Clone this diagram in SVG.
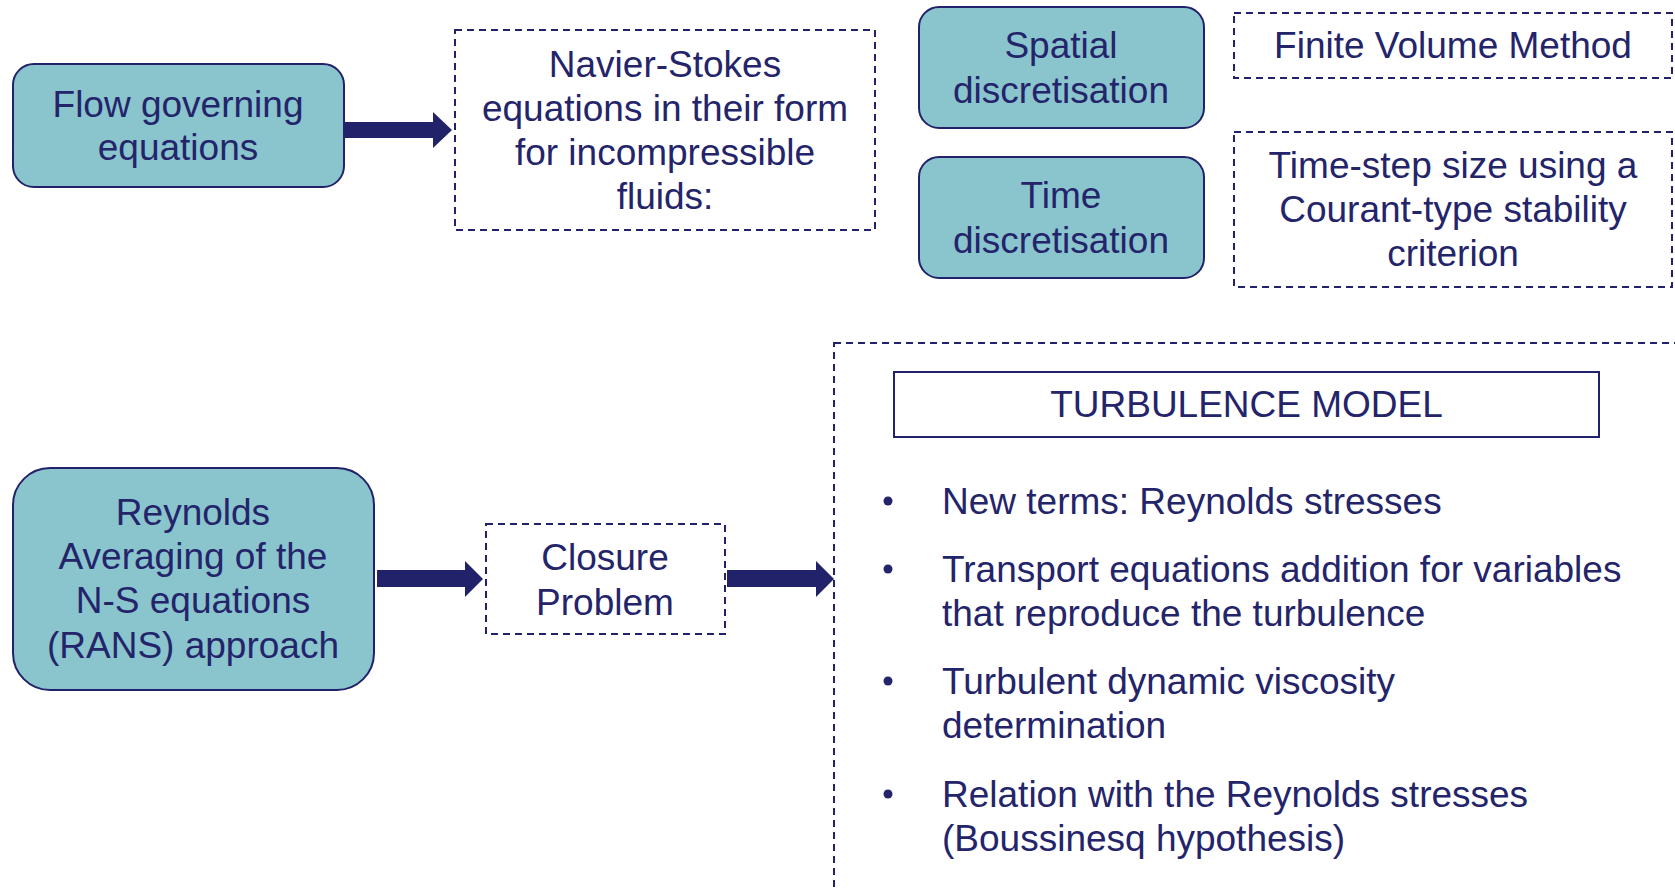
<svg xmlns="http://www.w3.org/2000/svg" width="1675" height="888" viewBox="0 0 1675 888">
  <defs>
    <style>
      .teal { fill: #8AC5CE; stroke: #22226A; stroke-width: 2; }
      .dash { fill: none; stroke: #22226A; stroke-width: 2; stroke-dasharray: 7 5; }
      .solid { fill: #FFFFFF; stroke: #22226A; stroke-width: 2; }
      .arrow { fill: #22226A; stroke: none; }
      text { font-family: "Liberation Sans", Arial, sans-serif; font-size: 37px; fill: #24246B; }
      .c { text-anchor: middle; }
    </style>
  </defs>
  <rect width="1675" height="888" fill="#FFFFFF"/>

  <!-- connectors: block arrows -->
  <g id="connectors">
    <path class="arrow" d="M345,122 H433 V112 L452,130 L433,148 V138 H345 Z"/>
    <path class="arrow" d="M377,570 H465 V561 L483,579 L465,597 V587 H377 Z"/>
    <path class="arrow" d="M727,570 H816 V561 L834,579 L816,597 V587 H727 Z"/>
  </g>

  <g id="flow-governing">
    <rect class="teal" x="13" y="64" width="331" height="123" rx="21" ry="21"/>
    <text class="c" x="178" y="117">Flow governing</text>
    <text class="c" x="178" y="160">equations</text>
  </g>

  <g id="navier-stokes">
    <rect class="dash" x="455" y="30" width="420" height="200"/>
    <text class="c" x="665" y="77">Navier-Stokes</text>
    <text class="c" x="665" y="121">equations in their form</text>
    <text class="c" x="665" y="165">for incompressible</text>
    <text class="c" x="665" y="209">fluids:</text>
  </g>

  <g id="spatial-discretisation">
    <rect class="teal" x="919" y="7" width="285" height="121" rx="20" ry="20"/>
    <text class="c" x="1061" y="58">Spatial</text>
    <text class="c" x="1061" y="103">discretisation</text>
  </g>

  <g id="finite-volume">
    <rect class="dash" x="1234" y="13" width="438" height="65"/>
    <text class="c" x="1453" y="58">Finite Volume Method</text>
  </g>

  <g id="time-discretisation">
    <rect class="teal" x="919" y="157" width="285" height="121" rx="20" ry="20"/>
    <text class="c" x="1061" y="208">Time</text>
    <text class="c" x="1061" y="253">discretisation</text>
  </g>

  <g id="time-step">
    <rect class="dash" x="1234" y="132" width="438" height="155"/>
    <text class="c" x="1453" y="178">Time-step size using a</text>
    <text class="c" x="1453" y="222">Courant-type stability</text>
    <text class="c" x="1453" y="266">criterion</text>
  </g>

  <g id="rans">
    <rect class="teal" x="13" y="468" width="361" height="222" rx="37" ry="37"/>
    <text class="c" x="193" y="525">Reynolds</text>
    <text class="c" x="193" y="569">Averaging of the</text>
    <text class="c" x="193" y="613">N-S equations</text>
    <text class="c" x="193" y="658">(RANS) approach</text>
  </g>

  <g id="closure-problem">
    <rect class="dash" x="486" y="524" width="239" height="110"/>
    <text class="c" x="605" y="570">Closure</text>
    <text class="c" x="605" y="615">Problem</text>
  </g>

  <g id="turbulence-model">
    <rect class="dash" x="834" y="343" width="860" height="570"/>
    <rect class="solid" x="894" y="372" width="705" height="65"/>
    <text class="c" x="1246.5" y="417">TURBULENCE MODEL</text>
    <g fill="#24246B">
      <circle cx="888" cy="501" r="4.5"/>
      <circle cx="888" cy="569" r="4.5"/>
      <circle cx="888" cy="681" r="4.5"/>
      <circle cx="888" cy="794" r="4.5"/>
    </g>
    <text x="942" y="514">New terms: Reynolds stresses</text>
    <text x="942" y="582">Transport equations addition for variables</text>
    <text x="942" y="626">that reproduce the turbulence</text>
    <text x="942" y="694">Turbulent dynamic viscosity</text>
    <text x="942" y="738">determination</text>
    <text x="942" y="807">Relation with the Reynolds stresses</text>
    <text x="942" y="851">(Boussinesq hypothesis)</text>
  </g>
</svg>
